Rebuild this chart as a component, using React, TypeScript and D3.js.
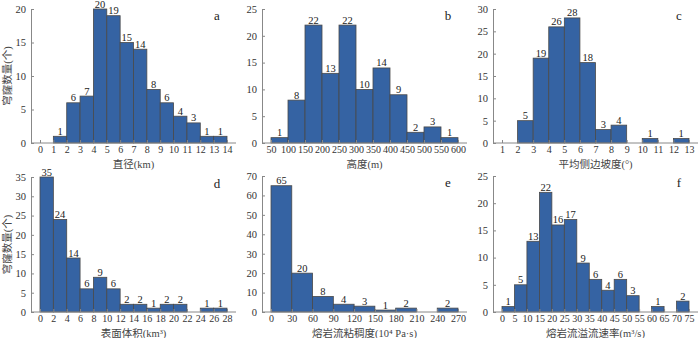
import { useRef, useEffect } from "react";
import * as d3 from "d3";

// bin edges (tick labels) and counts for each panel
const diameterEdges = [0, 1, 2, 3, 4, 5, 6, 7, 8, 9, 10, 11, 12, 13, 14];
const diameterCounts = [0, 1, 6, 7, 20, 19, 15, 14, 8, 6, 4, 3, 1, 1];

const heightEdges = [50, 100, 150, 200, 250, 300, 350, 400, 450, 500, 550, 600];
const heightCounts = [1, 8, 22, 13, 22, 10, 14, 9, 2, 3, 1];

const slopeEdges = [1, 2, 3, 4, 5, 6, 7, 8, 9, 10, 11, 12, 13];
const slopeCounts = [0, 5, 19, 26, 28, 18, 3, 4, 0, 1, 0, 1];

const volumeEdges = [0, 2, 4, 6, 8, 10, 12, 14, 16, 18, 20, 22, 24, 26, 28];
const volumeCounts = [35, 24, 14, 6, 9, 6, 2, 2, 1, 2, 2, 0, 1, 1];

const viscEdges = [0, 30, 60, 90, 120, 150, 180, 210, 240, 270];
const viscCounts = [65, 20, 8, 4, 3, 1, 2, 0, 2];

const rateEdges = [0, 5, 10, 15, 20, 25, 30, 35, 40, 45, 50, 55, 60, 65, 70, 75];
const rateCounts = [1, 5, 13, 22, 16, 17, 9, 6, 4, 6, 3, 0, 1, 0, 2];

const panels = [
  { edges: diameterEdges, counts: diameterCounts, yMax: 20, yStep: 5, letter: "a", title: "直径(km)", left: 31, top: 9, base: 143, yLabel: true },
  { edges: heightEdges, counts: heightCounts, yMax: 25, yStep: 5, letter: "b", title: "高度(m)", left: 262, top: 9, base: 143, yLabel: false },
  { edges: slopeEdges, counts: slopeCounts, yMax: 30, yStep: 5, letter: "c", title: "平均侧边坡度(°)", left: 493, top: 9, base: 143, yLabel: false },
  { edges: volumeEdges, counts: volumeCounts, yMax: 35, yStep: 5, letter: "d", title: "表面体积(km³)", left: 31, top: 177, base: 312, yLabel: true },
  { edges: viscEdges, counts: viscCounts, yMax: 70, yStep: 10, letter: "e", title: "熔岩流粘稠度(10⁴ Pa·s)", left: 262, top: 176, base: 312, yLabel: false },
  { edges: rateEdges, counts: rateCounts, yMax: 25, yStep: 5, letter: "f", title: "熔岩流溢流速率(m³/s)", left: 493, top: 176, base: 312, yLabel: false },
];

const numFont = "Liberation Serif, DejaVu Serif, serif";
const cjkFont = "Liberation Serif, Noto Sans CJK SC, serif";

export default function App() {
  const svgRef = useRef<SVGSVGElement>(null);

  useEffect(() => {
    const svg = d3.select(svgRef.current).attr("font-family", numFont);
    svg.selectAll("*").remove();

    panels.forEach((p) => {
      const g = svg.append("g");
      const pad = 9;
      const x0 = p.left + pad;
      const x1 = p.left + 196;
      const xScale = d3
        .scaleLinear()
        .domain([p.edges[0], p.edges[p.edges.length - 1]])
        .range([x0, x1]);
      const yScale = d3.scaleLinear().domain([0, p.yMax]).range([p.base, p.top]);

      // bars
      const bins = p.counts.map((c, i) => ({ c, a: p.edges[i], b: p.edges[i + 1] }));
      g.selectAll("rect")
        .data(bins.filter((d) => d.c > 0))
        .join("rect")
        .attr("x", (d) => xScale(d.a))
        .attr("y", (d) => yScale(d.c))
        .attr("width", (d) => xScale(d.b) - xScale(d.a))
        .attr("height", (d) => p.base - yScale(d.c))
        .attr("fill", "#3563a3")
        .attr("stroke", "#4a4a4a")
        .attr("stroke-width", 0.8);

      // count labels
      g.selectAll("text.cnt")
        .data(bins.filter((d) => d.c > 0))
        .join("text")
        .attr("class", "cnt")
        .attr("x", (d) => (xScale(d.a) + xScale(d.b)) / 2)
        .attr("y", (d) => yScale(d.c) - 1.5)
        .attr("text-anchor", "middle")
        .attr("font-family", numFont)
        .attr("font-size", 10.5)
        .attr("fill", "#222")
        .text((d) => d.c);

      // y axis
      const yAxis = d3
        .axisLeft(yScale)
        .tickValues(d3.range(0, p.yMax + 0.001, p.yStep))
        .tickSizeInner(-3)
        .tickSizeOuter(0)
        .tickPadding(5);
      const ya = g.append("g").attr("transform", `translate(${p.left},0)`).call(yAxis);
      ya.attr("font-family", numFont).attr("font-size", 10.5);
      ya.select(".domain").attr("stroke", "#888");
      ya.selectAll("line").attr("stroke", "#888");
      ya.selectAll("text").attr("fill", "#333");

      // x axis
      const xAxis = d3
        .axisBottom(xScale)
        .tickValues(p.edges)
        .tickFormat((d) => String(d))
        .tickSizeInner(-3)
        .tickSizeOuter(0)
        .tickPadding(3);
      const xa = g.append("g").attr("transform", `translate(0,${p.base})`).call(xAxis);
      xa.attr("font-family", numFont).attr("font-size", 10);
      xa.select(".domain").remove();
      xa.selectAll("line").attr("stroke", "#888");
      xa.selectAll("text").attr("fill", "#333");
      g.append("line")
        .attr("x1", p.left)
        .attr("x2", x1 + pad)
        .attr("y1", p.base)
        .attr("y2", p.base)
        .attr("stroke", "#888");

      // x title
      g.append("text")
        .attr("x", (x0 + x1) / 2)
        .attr("y", p.base + 25)
        .attr("text-anchor", "middle")
        .attr("font-family", cjkFont)
        .attr("font-size", 10.5)
        .attr("fill", "#444")
        .text(p.title);

      // panel letter
      g.append("text")
        .attr("x", x1 - 10)
        .attr("y", p.top + 11)
        .attr("text-anchor", "middle")
        .attr("font-family", numFont)
        .attr("font-size", 13)
        .attr("fill", "#222")
        .text(p.letter);

      if (p.yLabel) {
        g.append("text")
          .attr("transform", `translate(11,${(p.top + p.base) / 2}) rotate(-90)`)
          .attr("text-anchor", "middle")
          .attr("font-family", cjkFont)
          .attr("font-size", 10.5)
          .attr("fill", "#444")
          .text("穹窿数量(个)");
      }
    });
  }, []);

  return (
    <div style={{ position: "absolute", left: 0, top: 0, background: "#fff" }}>
      <svg ref={svgRef} width={700} height={338} style={{ display: "block" }}></svg>
    </div>
  );
}
